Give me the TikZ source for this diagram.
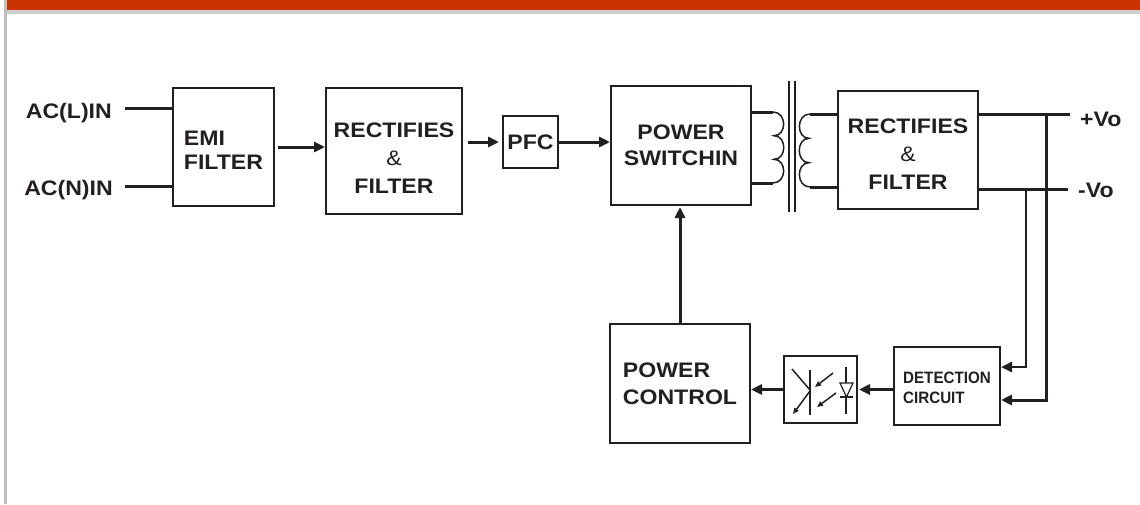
\documentclass[tikz,border=0pt]{standalone}
\usepackage{fontspec}
\setmainfont{Liberation Sans}[FakeStretch=1.1]
\newfontfamily\detfont{Liberation Sans}[FakeStretch=0.92]
\usetikzlibrary{arrows.meta, positioning}

\definecolor{ink}{RGB}{35,31,32}
\definecolor{topbar}{RGB}{204,51,0}
\definecolor{edge}{RGB}{192,192,192}
\newcommand\ampsign{{\mdseries\fontsize{21}{28}\selectfont\&}}

\begin{document}
\begin{tikzpicture}[x=1pt, y=-1pt,
  blk/.style={draw=ink, line width=2pt, inner sep=0pt, text=ink, font=\bfseries\fontsize{21}{28}\selectfont},
  wire/.style={draw=ink, line width=3pt},
  thin/.style={draw=ink, line width=1.5pt},
  arr/.style={wire, -{Triangle[length=11pt,width=10pt]}},
  tiny/.style={thin, -{Triangle[length=6pt,width=5pt]}},
  lbl/.style={text=ink, inner sep=0pt, font=\bfseries\fontsize{21}{26}\selectfont}]
\useasboundingbox (0,0) rectangle (1140,504);
% frame
\fill[topbar] (6,0) rectangle (1140,10);
\fill[edge!80] (6,10) rectangle (1140,14);
\fill[edge] (4,0) rectangle (6.5,504);

% blocks
\node[blk, minimum width=101, minimum height=118, align=left, font=\bfseries\fontsize{21}{21}\selectfont] (emi) at (223.5,147) {\rule{0pt}{21pt}EMI\\[3pt]FILTER};
\node[blk, minimum width=136, minimum height=126, align=center] (rect1) at (394,151) {\rule{0pt}{29pt}RECTIFIES\\\ampsign\\FILTER};
\node[blk, minimum width=55, minimum height=52] (pfc) at (530.5,142) {PFC};
\node[blk, minimum width=140, minimum height=119, align=center, font=\bfseries\fontsize{21}{26}\selectfont] (ps) at (681,145.5) {POWER\\SWITCHIN};
\node[blk, minimum width=140, minimum height=118, align=center] (rect2) at (908,150) {\rule{0pt}{23pt}RECTIFIES\\\ampsign\\FILTER};
\node[blk, minimum width=140, minimum height=119, align=left, font=\bfseries\fontsize{21}{27}\selectfont] (pc) at (680,383.5) {POWER\\CONTROL};
\node[blk, minimum width=73, minimum height=67] (opto) at (820.5,389.5) {};
\node[blk, minimum width=106, minimum height=78, align=left, font=\detfont\bfseries\fontsize{16.5}{20}\selectfont] (det) at (947,386) {\rule{0pt}{16pt}DETECTION\\CIRCUIT};

% terminals
\node[lbl, anchor=base east] (acl) at (112,118) {AC(L)IN};
\node[lbl, anchor=base east] (acn) at (113,195) {AC(N)IN};
\node[lbl, anchor=base west] (vplus) at (1080,126.5) {+Vo};
\node[lbl, anchor=base west] (vminus) at (1078,197) {-Vo};
\coordinate (inl) at (125,108);
\coordinate (inn) at (125,186);
\coordinate (vpe) at (1070,114);
\coordinate (vme) at (1068,189);
\coordinate (sp) at (1046,400);
\coordinate (sm) at (1026,367);

% connections
\draw[wire] (inl) -- (inl -| emi.west);
\draw[wire] (inn) -- (inn -| emi.west);
\draw[arr, shorten <=3pt] (emi.east) -- (emi.east -| rect1.west);
\draw[arr, shorten <=5pt, shorten >=3pt] (pfc.west -| rect1.east) -- (pfc.west);
\draw[arr] (pfc.east) -- (pfc.east -| ps.west);
\draw[arr, shorten >=1pt] (pc.north) -- (pc.north |- ps.south);
\draw[arr] (opto.west) -- (opto.west -| pc.east);
\draw[arr, shorten >=1pt] (opto.east -| det.west) -- (opto.east);
\draw[wire] (vpe -| rect2.east) -- (vpe);
\draw[wire] (vme -| rect2.east) -- (vme);
\draw[arr] (vpe -| sp) -- (sp) -- (sp -| det.east);
\draw[arr, line width=2.5pt] (vme -| sm) -- (sm) -- (sm -| det.east);

% transformer
\coordinate (pa) at (773,112);
\coordinate (pb) at (773,183);
\coordinate (sa) at (810,114);
\coordinate (sb) at (810,187);
\draw[wire] (pa -| ps.east) -- (pa);
\draw[wire] (pb -| ps.east) -- (pb);
\draw[thin] (pa) .. controls (787,112) and (787,135.7) .. (774,135.7)
  .. controls (787,135.7) and (787,159.3) .. (774,159.3)
  .. controls (787,159.3) and (787,183) .. (pb);
\draw[wire] (sa) -- (sa -| rect2.west);
\draw[wire] (sb) -- (sb -| rect2.west);
\draw[thin] (sa) .. controls (796,114) and (796,138.3) .. (809,138.3)
  .. controls (796,138.3) and (796,162.7) .. (809,162.7)
  .. controls (796,162.7) and (796,187) .. (sb);
\draw[thin] (789,81) -- (789,212);
\draw[thin] (795,81) -- (795,212);

% optocoupler
\draw[thin] (810,370) -- (810,415);
\draw[thin] (792,369) -- (810,390);
\draw[tiny] (810,391) -- (793,414);
\draw[tiny] (833,373) -- (815,387);
\draw[tiny] (836,393) -- (817,407);
\draw[thin] (846,367) -- (846,414);
\draw[thin, fill=white, line width=1.2pt] (840,383) -- (853,383) -- (846.5,397) -- cycle;
\draw[thin, line width=1.2pt] (840,397) -- (853,397);
\end{tikzpicture}
\end{document}
